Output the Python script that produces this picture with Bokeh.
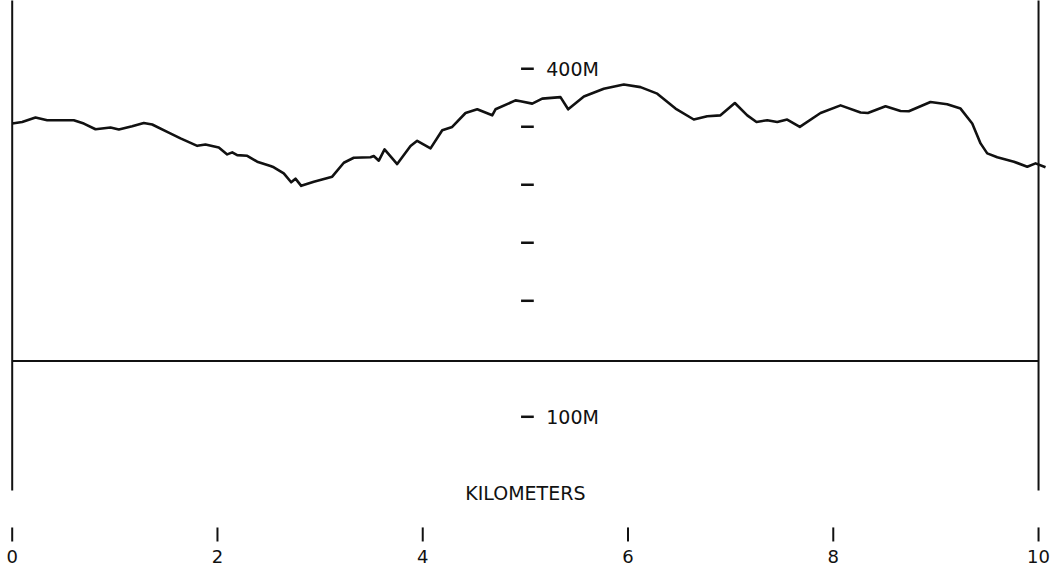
from bokeh.plotting import figure
from bokeh.models import ColumnDataSource, Range1d
from bokeh.core.properties import value
from bokeh.embed import file_html
from bokeh.resources import INLINE

# ---- data ----
distance_km = [0.000, 0.097, 0.227, 0.341, 0.600, 0.698, 0.812, 0.958, 1.039, 1.169,
               1.282, 1.364, 1.510, 1.640, 1.803, 1.883, 2.013, 2.095, 2.144, 2.192,
               2.290, 2.387, 2.517, 2.549, 2.646, 2.718, 2.760, 2.816, 2.939, 3.118,
               3.231, 3.328, 3.491, 3.523, 3.572, 3.628, 3.751, 3.881, 3.946, 4.076,
               4.190, 4.287, 4.417, 4.531, 4.677, 4.709, 4.904, 4.953, 5.067, 5.164,
               5.342, 5.417, 5.570, 5.764, 5.959, 6.122, 6.285, 6.463, 6.641, 6.772,
               6.901, 7.041, 7.162, 7.252, 7.357, 7.454, 7.551, 7.674, 7.876, 8.071,
               8.266, 8.337, 8.509, 8.655, 8.736, 8.947, 9.110, 9.240, 9.354, 9.435,
               9.500, 9.598, 9.760, 9.890, 9.971, 10.068]
elevation_m = [352.8, 354.2, 358.0, 355.7, 355.7, 352.8, 347.9, 349.4, 347.7, 350.5,
               353.3, 352.0, 345.6, 340.0, 333.6, 334.8, 332.2, 326.2, 328.0, 325.6,
               325.0, 319.9, 316.2, 315.1, 309.9, 302.2, 305.3, 299.1, 302.7, 307.0,
               319.0, 323.3, 323.7, 324.8, 320.8, 330.5, 317.9, 333.4, 337.9, 331.4,
               347.1, 349.9, 361.9, 365.1, 359.9, 365.1, 372.8, 372.0, 370.0, 374.3,
               375.6, 365.1, 376.2, 382.8, 386.5, 384.2, 378.6, 365.7, 356.3, 359.1,
               359.9, 370.5, 359.9, 354.2, 355.7, 354.2, 356.3, 349.9, 361.9, 368.5,
               362.3, 361.9, 367.7, 363.6, 363.4, 371.4, 369.4, 365.7, 352.8, 335.7,
               327.1, 323.7, 319.9, 315.6, 318.5, 315.1]

km_ticks = [0, 2, 4, 6, 8, 10]
km_tick_labels = ["0", "2", "4", "6", "8", "10"]
elev_ticks = [400, 350, 300, 250, 200, 100]
elev_labels = {400: "400M", 100: "100M"}
baseline_m = 148
x_title = "KILOMETERS"

FONT = value("DejaVu Sans")
INK = "#111111"

p = figure(width=1056, height=568, output_backend="svg", toolbar_location=None,
           x_range=Range1d(-0.114, 10.175), y_range=Range1d(-30.8, 458.9),
           min_border=0)
p.axis.visible = False
p.grid.visible = False
p.outline_line_color = None
p.background_fill_color = "white"
p.border_fill_color = "white"

# frame lines: verticals at 0 and 10 km, baseline
p.segment(x0=[km_ticks[0], km_ticks[-1]], y0=[36.5, 36.5],
          x1=[km_ticks[0], km_ticks[-1]], y1=[470, 470],
          line_color=INK, line_width=2)
p.segment(x0=[km_ticks[0]], y0=[baseline_m], x1=[km_ticks[-1]], y1=[baseline_m],
          line_color=INK, line_width=2)

# elevation scale ticks in the middle column
mid = 5.02
half = 0.062
p.segment(x0=[mid - half] * len(elev_ticks), y0=elev_ticks,
          x1=[mid + half] * len(elev_ticks), y1=elev_ticks,
          line_color=INK, line_width=2.5)
lab_vals = list(elev_labels.keys())
p.text(x=[5.46] * len(lab_vals), y=lab_vals, text=[elev_labels[v] for v in lab_vals],
       text_font=FONT, text_font_size="19px", text_color=INK,
       text_align="center", text_baseline="middle")

# profile
src = ColumnDataSource(dict(x=distance_km, y=elevation_m))
p.line("x", "y", source=src, line_color=INK, line_width=2.6, line_join="round")

# kilometer scale at the bottom
p.text(x=[5.0], y=[33.9], text=[x_title], text_font=FONT, text_font_size="19px",
       text_color=INK, text_align="center", text_baseline="middle")
p.segment(x0=km_ticks, y0=[4.6] * len(km_ticks), x1=km_ticks, y1=[-7.5] * len(km_ticks),
          line_color=INK, line_width=2)
p.text(x=km_ticks, y=[-20.8] * len(km_ticks), text=km_tick_labels, text_font=FONT,
       text_font_size="18px", text_color=INK, text_align="center",
       text_baseline="middle")

open("out.html", "w").write(file_html(p, INLINE))
